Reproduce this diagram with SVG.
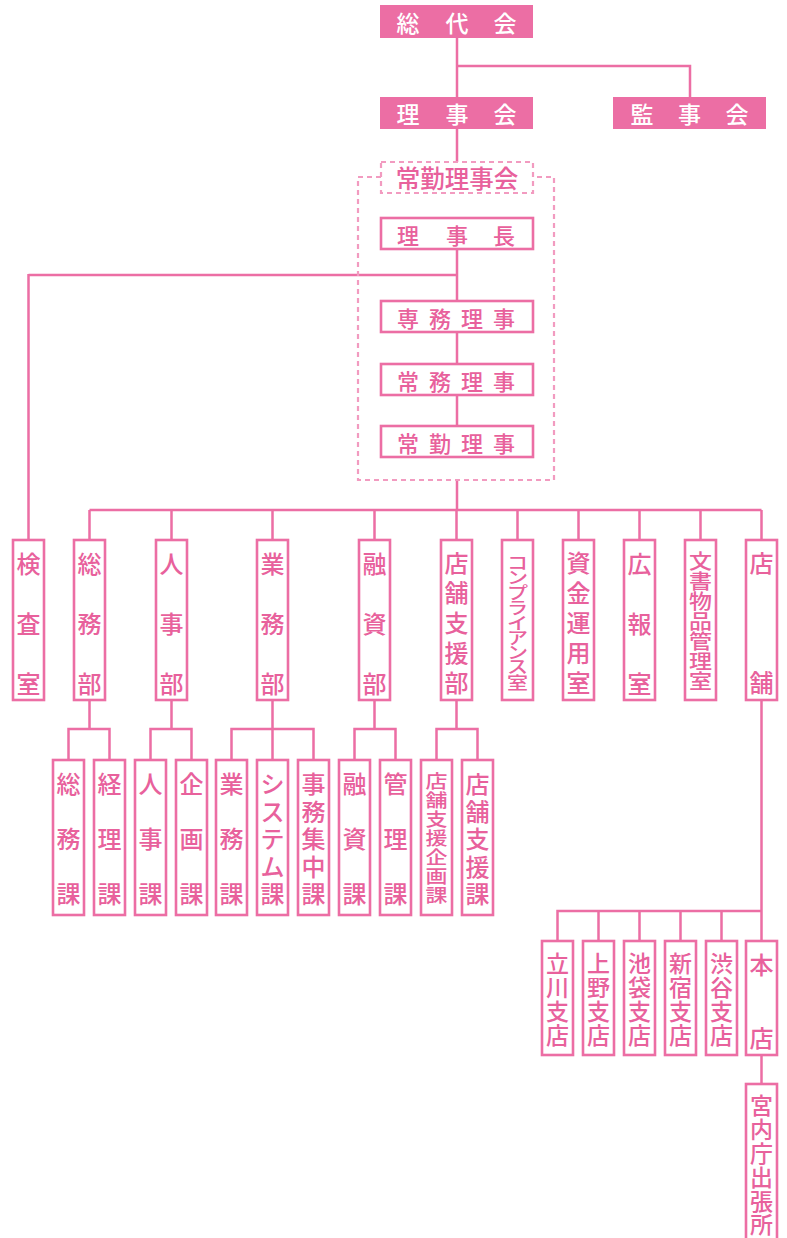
<svg xmlns="http://www.w3.org/2000/svg" width="787" height="1238" viewBox="0 0 787 1238">
  <style>
    .ln { fill: none; stroke: #ec6ea4; stroke-width: 2.5; }
    .box { fill: #ffffff; stroke: #ec6ea4; stroke-width: 2.6; }
    .solid { fill: #ec6ea4; }
    .dash { fill: none; stroke: #f29bc0; stroke-width: 2.2; stroke-dasharray: 5 4; }
    .t { font-family: "Noto Sans CJK JP", "Noto Sans", sans-serif; fill: #e8619c; text-anchor: middle; dominant-baseline: central; font-size: 24px; font-weight: 500; }
    .w { fill: #ffffff; font-size: 23px; }
    .s21 { font-size: 21px; }
    .s22 { font-size: 22px; }
    .s23 { font-size: 23px; }
  </style>

  <!-- connectors -->
  <g id="connectors">
    <path class="ln" d="M457,38 V97 M457,66 H690 V97 M457,129 V162"/>
    <path class="ln" d="M457,249 V301 M28.5,275 H457 M28.5,274 V540 M457,332 V364 M457,395 V426"/>
    <path class="ln" d="M457,480 V510 M89.5,510 H761.5"/>
    <path class="ln" d="M89.5,510 V540 M171.5,510 V540 M272.5,510 V540 M374.5,510 V540 M456.5,510 V540 M517.5,510 V540 M578.5,510 V540 M639.5,510 V540 M700.5,510 V540 M761.5,510 V540"/>
    <!-- sections -->
    <path class="ln" d="M89.5,700 V729 M68.5,760 V729 H109.5 V760"/>
    <path class="ln" d="M171.5,700 V729 M150.5,760 V729 H191.5 V760"/>
    <path class="ln" d="M272.5,700 V760 M231.5,760 V729 H313.5 V760"/>
    <path class="ln" d="M374.5,700 V729 M354.5,760 V729 H395.5 V760"/>
    <path class="ln" d="M456.5,700 V729 M436.5,760 V729 H477.5 V760"/>
    <!-- branches -->
    <path class="ln" d="M761.5,700 V941 M557.5,941 V911 H761.5 M598.5,911 V941 M639.5,911 V941 M680.5,911 V941 M721.5,911 V941"/>
    <path class="ln" d="M761.5,1055 V1084"/>
  </g>

  <!-- general assembly and boards -->
  <g id="soudaikai">
    <rect class="solid" x="380" y="5" width="153" height="33"/>
    <text class="t w" x="408 457 505" y="21.5 21.5 21.5">総代会</text>
  </g>
  <g id="rijikai">
    <rect class="solid" x="380" y="97" width="153" height="32"/>
    <text class="t w" x="408 457 505" y="113 113 113">理事会</text>
  </g>
  <g id="kanjikai">
    <rect class="solid" x="613" y="97" width="153" height="32"/>
    <text class="t w" x="642 689.5 737" y="113 113 113">監事会</text>
  </g>

  <!-- standing board of directors -->
  <g id="joukin-rijikai">
    <path class="dash" d="M381,177 H358 V480 H554 V177 H533"/>
    <rect class="dash" x="381" y="162" width="152" height="31"/>
    <text class="t" x="457" y="177.5" style="font-size:24.5px">常勤理事会</text>
  </g>
  <g id="rijichou">
    <rect class="box" x="381" y="218" width="152" height="31"/>
    <text class="t s22" x="408 457 504" y="234 234 234">理事長</text>
  </g>
  <g id="senmu">
    <rect class="box" x="381" y="301" width="152" height="31"/>
    <text class="t s22" x="408 440 472 504" y="317 317 317 317">専務理事</text>
  </g>
  <g id="joumu">
    <rect class="box" x="381" y="364" width="152" height="31"/>
    <text class="t s22" x="408 440 472 504" y="380 380 380 380">常務理事</text>
  </g>
  <g id="joukin">
    <rect class="box" x="381" y="426" width="152" height="31"/>
    <text class="t s22" x="408 440 472 504" y="442 442 442 442">常勤理事</text>
  </g>

  <!-- departments -->
  <g id="kensa">
    <rect class="box" x="13" y="540" width="31" height="160"/>
    <text class="t" x="28.5 28.5 28.5" y="562 622 682">検査室</text>
  </g>
  <g id="soumubu">
    <rect class="box" x="74" y="540" width="31" height="160"/>
    <text class="t" x="89.5 89.5 89.5" y="562 622 682">総務部</text>
  </g>
  <g id="jinjibu">
    <rect class="box" x="156" y="540" width="31" height="160"/>
    <text class="t" x="171.5 171.5 171.5" y="562 622 682">人事部</text>
  </g>
  <g id="gyoumubu">
    <rect class="box" x="257" y="540" width="31" height="160"/>
    <text class="t" x="272.5 272.5 272.5" y="562 622 682">業務部</text>
  </g>
  <g id="yuushibu">
    <rect class="box" x="359" y="540" width="31" height="160"/>
    <text class="t" x="374.5 374.5 374.5" y="562 622 682">融資部</text>
  </g>
  <g id="tenposhienbu">
    <rect class="box" x="441" y="540" width="31" height="160"/>
    <text class="t" x="456.5 456.5 456.5 456.5 456.5" y="561 591 621 651 681">店舗支援部</text>
  </g>
  <g id="compliance">
    <rect class="box" x="502" y="540" width="31" height="160"/>
    <g transform="translate(517.5,621) scale(1,0.8)">
      <text class="t s21" x="0 0 0 0 0 0 0 0 0" y="-75 -56.25 -37.5 -18.75 0 18.75 37.5 56.25 75">コンプライアンス室</text>
    </g>
  </g>
  <g id="shikin">
    <rect class="box" x="563" y="540" width="31" height="160"/>
    <text class="t" x="578.5 578.5 578.5 578.5 578.5" y="561 591 621 651 681">資金運用室</text>
  </g>
  <g id="kouhou">
    <rect class="box" x="624" y="540" width="31" height="160"/>
    <text class="t" x="639.5 639.5 639.5" y="562 622 682">広報室</text>
  </g>
  <g id="bunsho">
    <rect class="box" x="685" y="540" width="31" height="160"/>
    <g transform="translate(700.5,620) scale(1,0.87)">
      <text class="t s23" x="0 0 0 0 0 0 0" y="-69 -46 -23 0 23 46 69">文書物品管理室</text>
    </g>
  </g>
  <g id="tenpo">
    <rect class="box" x="746" y="540" width="31" height="160"/>
    <text class="t" x="761.5 761.5" y="561 681">店舗</text>
  </g>

  <!-- sections -->
  <g id="soumuka">
    <rect class="box" x="53" y="760" width="31" height="155"/>
    <text class="t" x="68.5 68.5 68.5" y="782 837 892">総務課</text>
  </g>
  <g id="keirika">
    <rect class="box" x="94" y="760" width="31" height="155"/>
    <text class="t" x="109.5 109.5 109.5" y="782 837 892">経理課</text>
  </g>
  <g id="jinjika">
    <rect class="box" x="135" y="760" width="31" height="155"/>
    <text class="t" x="150.5 150.5 150.5" y="782 837 892">人事課</text>
  </g>
  <g id="kikakuka">
    <rect class="box" x="176" y="760" width="31" height="155"/>
    <text class="t" x="191.5 191.5 191.5" y="782 837 892">企画課</text>
  </g>
  <g id="gyoumuka">
    <rect class="box" x="216" y="760" width="31" height="155"/>
    <text class="t" x="231.5 231.5 231.5" y="782 837 892">業務課</text>
  </g>
  <g id="systemka">
    <rect class="box" x="257" y="760" width="31" height="155"/>
    <text class="t" x="272.5 272.5 272.5 272.5 272.5" y="782 810 837 865 892">システム課</text>
  </g>
  <g id="jimushuuchuuka">
    <rect class="box" x="298" y="760" width="31" height="155"/>
    <text class="t" x="313.5 313.5 313.5 313.5 313.5" y="782 810 837 865 892">事務集中課</text>
  </g>
  <g id="yuushika">
    <rect class="box" x="339" y="760" width="31" height="155"/>
    <text class="t" x="354.5 354.5 354.5" y="782 837 892">融資課</text>
  </g>
  <g id="kanrika">
    <rect class="box" x="380" y="760" width="31" height="155"/>
    <text class="t" x="395.5 395.5 395.5" y="782 837 892">管理課</text>
  </g>
  <g id="tenposhienkikakuka">
    <rect class="box" x="421" y="760" width="31" height="155"/>
    <g transform="translate(436.5,837) scale(1,0.85)">
      <text class="t s22" x="0 0 0 0 0 0 0" y="-67 -44.7 -22.35 0 22.35 44.7 67">店舗支援企画課</text>
    </g>
  </g>
  <g id="tenposhienka">
    <rect class="box" x="462" y="760" width="31" height="155"/>
    <text class="t" x="477.5 477.5 477.5 477.5 477.5" y="782 810 837 865 892">店舗支援課</text>
  </g>

  <!-- branches -->
  <g id="tachikawa">
    <rect class="box" x="542" y="941" width="31" height="114"/>
    <text class="t s23" x="557.5 557.5 557.5 557.5" y="962 986 1010 1034">立川支店</text>
  </g>
  <g id="ueno">
    <rect class="box" x="583" y="941" width="31" height="114"/>
    <text class="t s23" x="598.5 598.5 598.5 598.5" y="962 986 1010 1034">上野支店</text>
  </g>
  <g id="ikebukuro">
    <rect class="box" x="624" y="941" width="31" height="114"/>
    <text class="t s23" x="639.5 639.5 639.5 639.5" y="962 986 1010 1034">池袋支店</text>
  </g>
  <g id="shinjuku">
    <rect class="box" x="665" y="941" width="31" height="114"/>
    <text class="t s23" x="680.5 680.5 680.5 680.5" y="962 986 1010 1034">新宿支店</text>
  </g>
  <g id="shibuya">
    <rect class="box" x="706" y="941" width="31" height="114"/>
    <text class="t s23" x="721.5 721.5 721.5 721.5" y="962 986 1010 1034">渋谷支店</text>
  </g>
  <g id="honten">
    <rect class="box" x="746" y="941" width="31" height="114"/>
    <text class="t" x="761.5 761.5" y="963 1036">本店</text>
  </g>
  <g id="kunaichou">
    <rect class="box" x="746" y="1084" width="31" height="170"/>
    <text class="t s23" x="761.5 761.5 761.5 761.5 761.5 761.5" y="1104 1128 1152 1176 1200 1223">宮内庁出張所</text>
  </g>
</svg>
